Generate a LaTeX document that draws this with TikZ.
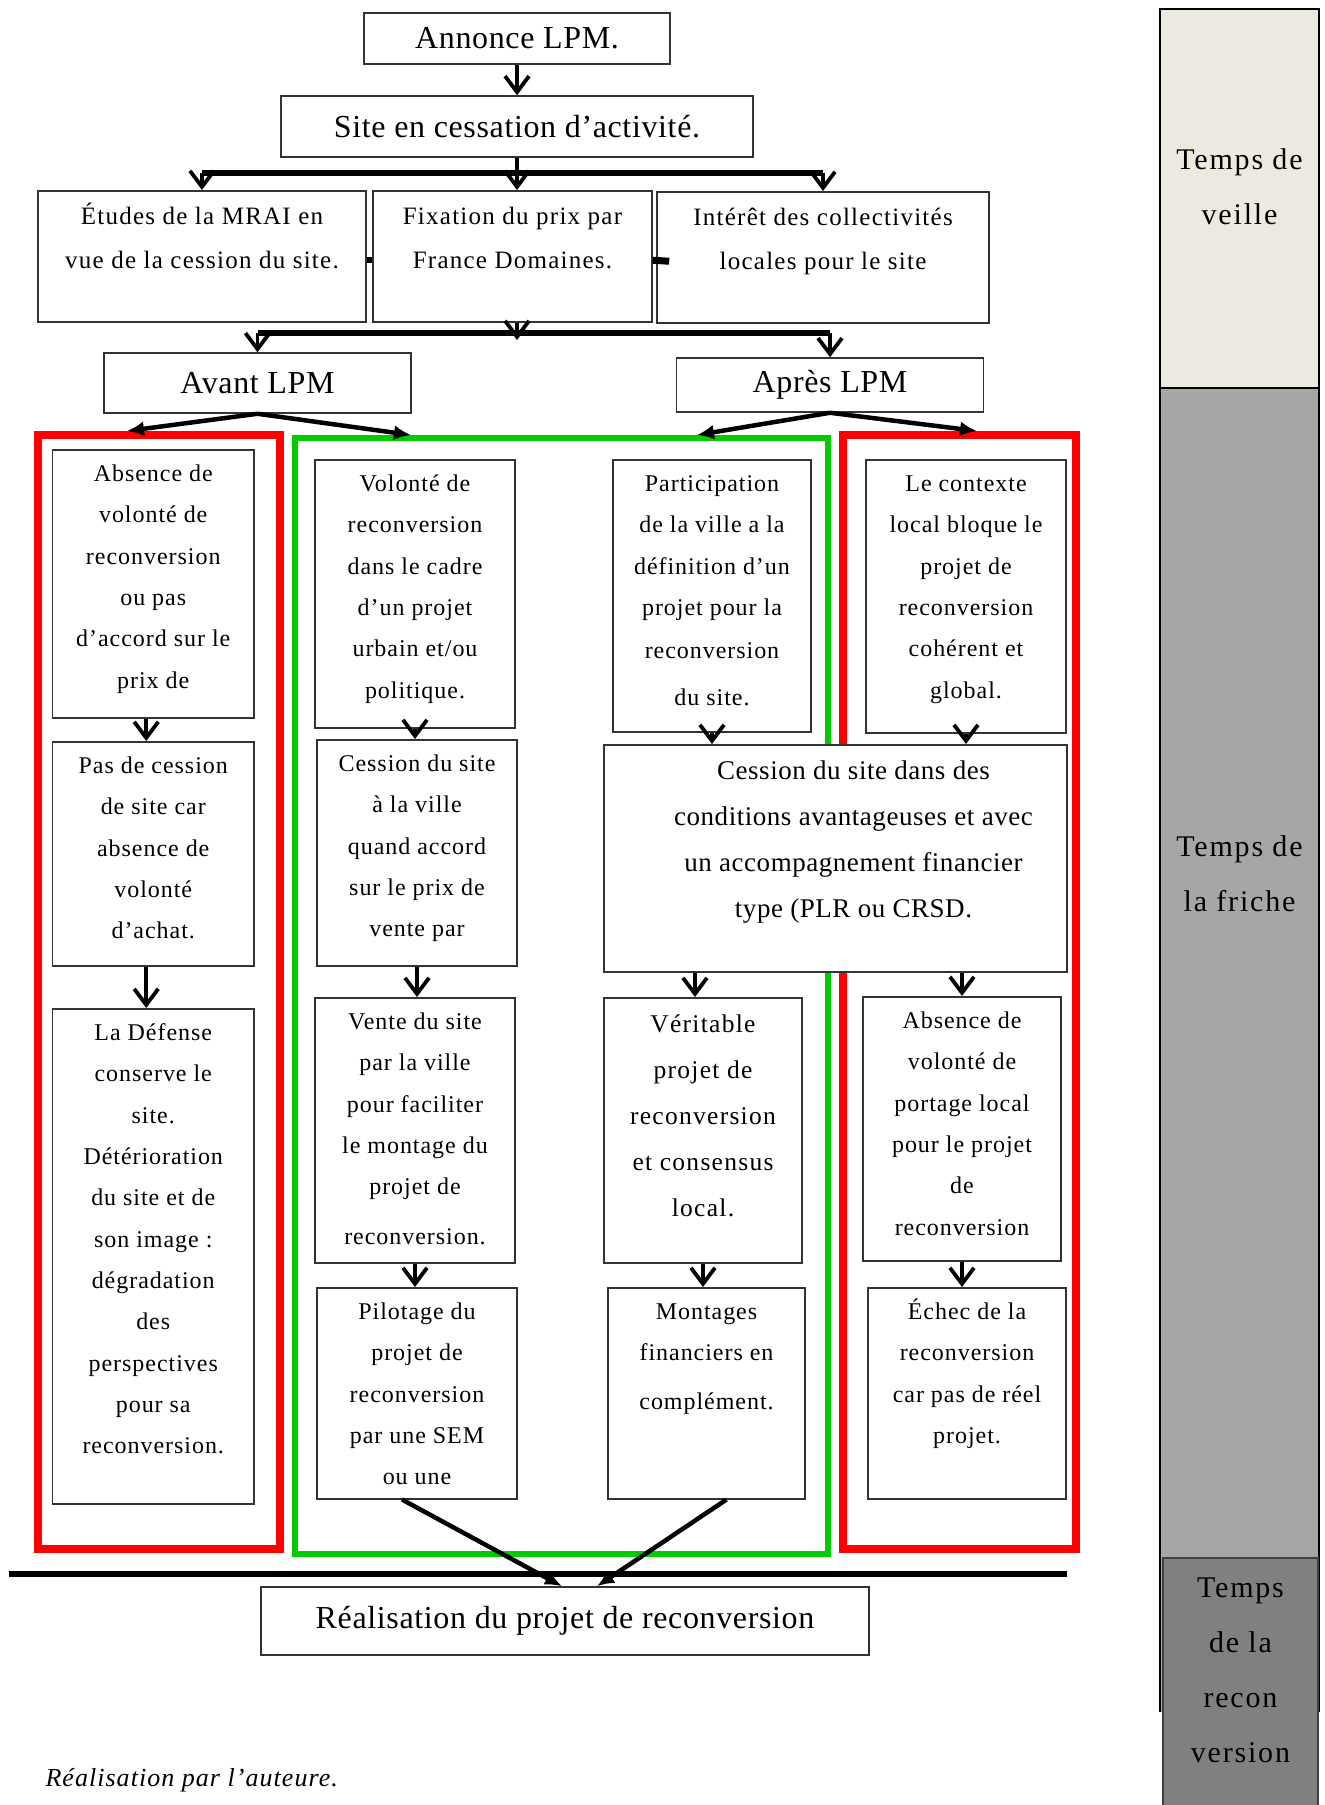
\documentclass[tikz,border=0pt]{standalone}
\usepackage{fontspec}
\setmainfont{Liberation Serif}
\newfontfamily\fonttitre{Liberation Serif}[LetterSpace=2]
\newfontfamily\fontrangee{Liberation Serif}[LetterSpace=5]
\newfontfamily\fontboite{Liberation Serif}[LetterSpace=4]
\newfontfamily\fonttemps{Liberation Serif}[LetterSpace=6]
\definecolor{lpmrouge}{RGB}{255,0,0}
\definecolor{lpmvert}{RGB}{0,204,0}
\definecolor{lpmbeige}{RGB}{236,234,224}
\definecolor{lpmgris}{RGB}{166,166,166}
\definecolor{lpmgrisfonce}{RGB}{128,128,128}
\usetikzlibrary{arrows.meta}
\newcommand{\bloc}[3]{\parbox[c][#2][t]{#1}{\centering\vspace*{3pt}\strut#3}}

\begin{document}
\begin{tikzpicture}[x=1pt, y=-1pt,
    titre/.style={draw=black!80, line width=1.5pt, fill=white, inner sep=0pt,
                  font=\fonttitre\fontsize{32}{38}\selectfont},
    boite/.style={draw=black!80, line width=1.5pt, fill=white, inner sep=0pt,
                  anchor=north, font=\fontboite\fontsize{24}{41.3}\selectfont},
    rangee/.style={boite, font=\fontrangee\fontsize{25}{44}\selectfont},
    cadre/.style={line width=8pt, inner sep=0pt},
    temps/.style={align=center, font=\fonttemps\fontsize{30}{55}\selectfont},
    fleche/.style={line width=3.8pt, -{Straight Barb[length=16pt, width=24pt]}},
    flechepleine/.style={line width=4.5pt, -{Latex[length=17pt, width=15pt]}},
    barre/.style={line width=5.5pt}
  ]
    \useasboundingbox (0,0) rectangle (1325,1805);

    % Frise du temps
    \fill[lpmbeige] (1160,9) rectangle (1319,388);
    \fill[lpmgris] (1160,388) rectangle (1319,1712);
    \draw[line width=2.5pt] (1160,1712) |- (1319,9) -- (1319,1712);
    \draw[line width=1.5pt] (1160,388) -- (1319,388);
    \filldraw[fill=lpmgrisfonce, draw=black!75, line width=1.5pt]
      (1163,1558) rectangle (1318,1812);
    \node[temps] (veille) at (1239.5,187) {Temps de\\veille};
    \node[temps] (friche) at (1239.5,874) {Temps de\\la friche};
    \node[temps] (reconv) at (1240.5,1670) {Temps\\de la\\recon\\version};

    % Annonce et cessation
    \node[titre, minimum width=306pt, minimum height=51pt] (annonce) at (517,38.5)
      {Annonce LPM.};
    \node[titre, minimum width=472pt, minimum height=61pt] (site) at (517,126.5)
      {Site en cessation d’activité.};
    \coordinate (b1) at (517,173);
    \coordinate (b2) at (517,333);

    % Les trois dossiers
    \node[rangee] (etudes) at (202,190)
      {\bloc{328pt}{131pt}{Études de la MRAI en\\vue de la cession du site.}};
    \node[rangee] (fixation) at (512.5,190)
      {\bloc{279pt}{131pt}{Fixation du prix par\\France Domaines.}};
    \node[rangee] (interet) at (823,191)
      {\bloc{332pt}{131pt}{Intérêt des collectivités\\locales pour le site}};

    % Avant / Apres
    \node[titre, minimum width=307pt, minimum height=60pt] (avant) at (257.5,383)
      {Avant LPM};
    \node[titre, minimum width=307pt, minimum height=54pt] (apres) at (830,385)
      {Après LPM};

    % Cadres de couleur
    \node[cadre, draw=lpmrouge, minimum width=242pt, minimum height=1114pt]
      (rougeG) at (159,992) {};
    \node[cadre, draw=lpmvert, line width=6pt, minimum width=533pt, minimum height=1116pt]
      (vertC) at (561.5,996) {};
    \node[cadre, draw=lpmrouge, minimum width=233pt, minimum height=1114pt]
      (rougeD) at (959.5,992) {};
    \draw[barre] (9,1574) -- (1067,1574);

    % Colonne 1 : avant LPM, echec
    \node[boite] (absence) at (153.25,449)
      {\bloc{201.5pt}{268pt}{Absence de\\volonté de\\reconversion\\ou pas\\d’accord sur le\\prix de}};
    \node[boite] (pascession) at (153.25,741)
      {\bloc{201.5pt}{224pt}{Pas de cession\\de site car\\absence de\\volonté\\d’achat.}};
    \node[boite] (defense) at (153.25,1008)
      {\bloc{201.5pt}{495pt}{La Défense\\conserve le\\site.\\Détérioration\\du site et de\\son image :\\dégradation\\des\\perspectives\\pour sa\\reconversion.}};

    % Colonne 2 : avant LPM, reussite
    \node[boite] (volonte) at (415,459)
      {\bloc{200pt}{268pt}{Volonté de\\reconversion\\dans le cadre\\d’un projet\\urbain et/ou\\politique.}};
    \node[boite] (cessionville) at (417,739)
      {\bloc{200pt}{226pt}{Cession du site\\à la ville\\quand accord\\sur le prix de\\vente par}};
    \node[boite] (vente) at (415,997)
      {\bloc{200pt}{265pt}{Vente du site\\par la ville\\pour faciliter\\le montage du\\projet de\\[8pt]reconversion.}};
    \node[boite] (pilotage) at (417,1287)
      {\bloc{200pt}{211pt}{Pilotage du\\projet de\\reconversion\\par une SEM\\ou une}};

    % Colonne 3 : apres LPM, reussite
    \node[boite] (participation) at (712,459)
      {\bloc{198pt}{272pt}{Participation\\de la ville a la\\définition d’un\\projet pour la\\[2pt]reconversion\\[5pt]du site.}};
    \node[boite] (contexte) at (966,459)
      {\bloc{200pt}{273pt}{Le contexte\\local bloque le\\projet de\\reconversion\\cohérent et\\global.}};
    \node[boite, font=\fonttitre\fontsize{27}{46}\selectfont] (cessioncond) at (835.5,744)
      {\bloc{463pt}{227pt}{\advance\leftskip 36pt\relax
        Cession du site dans des\\conditions avantageuses et avec\\un accompagnement financier\\type (PLR ou CRSD.}};
    \node[boite, font=\fontrangee\fontsize{25.5}{46}\selectfont] (veritable) at (703,997)
      {\bloc{198pt}{265pt}{Véritable\\projet de\\reconversion\\et consensus\\local.}};
    \node[boite] (montages) at (706.5,1287)
      {\bloc{197pt}{211pt}{Montages\\financiers en\\[7pt]complément.}};

    % Colonne 4 : apres LPM, echec
    \node[boite] (portage) at (962,996)
      {\bloc{198pt}{264pt}{Absence de\\volonté de\\portage local\\pour le projet\\de\\reconversion}};
    \node[boite] (echec) at (967,1287)
      {\bloc{198pt}{211pt}{Échec de la\\reconversion\\car pas de réel\\projet.}};

    % Realisation
    \node[titre, minimum width=608pt, minimum height=68pt] (realisation) at (565,1621)
      {Réalisation du projet de reconversion};
    \node[anchor=base west, font=\fontboite\itshape\fontsize{26}{30}\selectfont]
      (source) at (42,1786) {Réalisation par l’auteure.};

    % Liaisons du haut
    \draw[fleche] (annonce.south) -- (site.north);
    \draw[fleche] (site.south) -- (site.south |- fixation.north);
    \draw[barre] (b1 -| etudes.north) -- (b1 -| interet.north);
    \draw[fleche] (b1 -| etudes.north) -- (etudes.north);
    \draw[fleche] (b1 -| interet.north) -- (interet.north);
    \draw[line width=6pt] ([yshift=-4pt]etudes.east) -- ([yshift=-4pt]fixation.west);
    \draw[line width=7pt] ([yshift=-4pt]fixation.east) -- ([yshift=-4pt,xshift=13pt]interet.west);
    \draw[fleche, shorten >=-7pt] (fixation.south -| b2) -- (b2);
    \draw[barre] (b2 -| avant.north) -- (b2 -| apres.north);
    \draw[fleche] (b2 -| avant.north) -- (avant.north);
    \draw[fleche] (b2 -| apres.north) -- (apres.north);

    % Vers les cadres
    \draw[flechepleine] (avant.south) -- ([xshift=93pt]rougeG.north west);
    \draw[flechepleine] (avant.south) -- ([xshift=119pt]vertC.north west);
    \draw[flechepleine] (apres.south) -- ([xshift=-134pt]vertC.north east);
    \draw[flechepleine] (apres.south) -- ([xshift=138pt]rougeD.north west);

    % Liaisons des colonnes
    \draw[fleche] ([xshift=-7pt]absence.south) -- ([xshift=-7pt]pascession.north);
    \draw[fleche] ([xshift=-7pt]pascession.south) -- ([xshift=-7pt]defense.north);
    \draw[fleche] (volonte.south) -- (volonte.south |- cessionville.north);
    \draw[fleche] (cessionville.south) -- (cessionville.south |- vente.north);
    \draw[fleche] (vente.south) -- (vente.south |- pilotage.north);
    \draw[fleche] (participation.south) -- (participation.south |- cessioncond.north);
    \draw[fleche] (contexte.south) -- (contexte.south |- cessioncond.north);
    \draw[fleche] ([xshift=-8pt]veritable.north |- cessioncond.south) -- ([xshift=-8pt]veritable.north);
    \draw[fleche] (cessioncond.south -| portage.north) -- (portage.north);
    \draw[fleche] (veritable.south) -- (veritable.south |- montages.north);
    \draw[fleche] (portage.south) -- (portage.south |- echec.north);

    % Vers la realisation
    \draw[flechepleine] ([xshift=-15pt]pilotage.south) -- ([xshift=-3pt]realisation.north);
    \draw[flechepleine] ([xshift=20pt]montages.south) -- ([xshift=32pt]realisation.north);
  \end{tikzpicture}
\end{document}
